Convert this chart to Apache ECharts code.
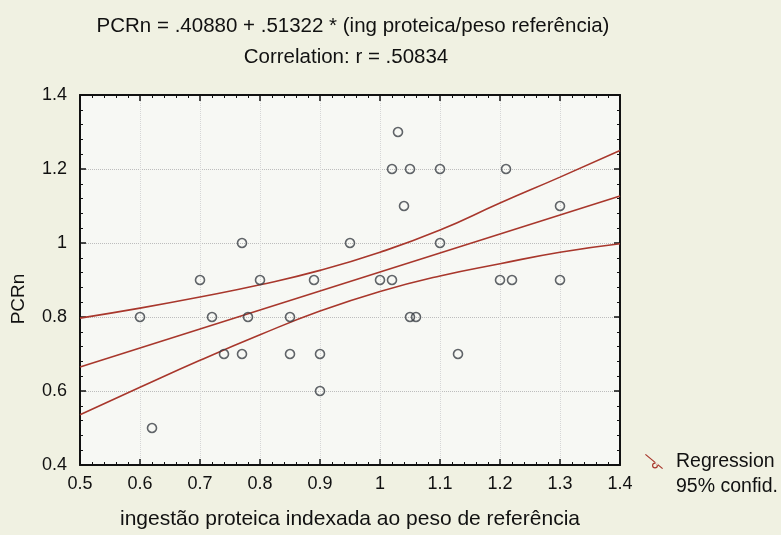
<!DOCTYPE html>
<html>
<head>
<meta charset="utf-8">
<script src="https://cdn.jsdelivr.net/npm/echarts@6/dist/echarts.min.js"></script>
<style>
html,body{margin:0;padding:0;background:#f0f1e2;}
#chart{width:781px;height:535px;}
</style>
</head>
<body>
<div id="chart"></div>
<script>
// Scatter points (ingestão proteica indexada, PCRn)
const pointsX = [0.60,0.62,0.70,0.72,0.74,0.77,0.77,0.78,0.80,0.85,0.85,0.89,0.90,0.90,0.95,1.00,1.02,1.02,1.03,1.04,1.05,1.05,1.06,1.10,1.10,1.13,1.20,1.21,1.22,1.30,1.30];
const pointsY = [0.8,0.5,0.9,0.8,0.7,1.0,0.7,0.8,0.9,0.8,0.7,0.9,0.7,0.6,1.0,0.9,0.9,1.2,1.3,1.1,1.2,0.8,0.8,1.2,1.0,0.7,0.9,1.2,0.9,1.1,0.9];

// Regression line (at the axis ends)
const fitX = [0.5, 1.4];
const fitY = [0.665, 1.127];

// 95% confidence band
const bandX = [0.5,0.6,0.7,0.8,0.9,1.0,1.1,1.2,1.3,1.4];
const bandUpper = [0.797,0.824,0.854,0.887,0.926,0.975,1.035,1.108,1.178,1.250];
const bandLower = [0.536,0.610,0.683,0.752,0.816,0.869,0.911,0.944,0.975,0.998];

const titleLine1 = 'PCRn = .40880 + .51322 * (ing proteica/peso referência)';
const titleLine2 = 'Correlation: r = .50834';
const xName = 'ingestão proteica indexada ao peso de referência';
const yName = 'PCRn';
const legendNames = ['Regression', '95% confid.'];

const zip = (a, b) => a.map((v, i) => [v, b[i]]);
const FONT = 'Liberation Sans, Arial, sans-serif';
const RED = '#a8372c';

const chart = echarts.init(document.getElementById('chart'), null, {renderer: 'canvas'});

const axisCommon = {
  type: 'value',
  axisLine: {show: true, onZero: false, lineStyle: {color: '#111', width: 2}},
  axisTick: {show: true, inside: true, length: 6, lineStyle: {color: '#111', width: 1.5}},
  minorTick: {show: true, splitNumber: 5, length: 3, lineStyle: {color: '#111', width: 1}},
  axisLabel: {color: '#111', fontFamily: FONT, fontSize: 18}
};

const legendIcon = 'path://M0,0.8 L0.8,0 L18,14.2 L17.2,15 Z M13,11.5 A3,3 0 1 0 7,11.5 A3,3 0 1 0 13,11.5 Z M11.8,11.5 A1.8,1.8 0 1 1 8.2,11.5 A1.8,1.8 0 1 1 11.8,11.5 Z M26,16 L26,16 Z';

chart.setOption({
  backgroundColor: '#f0f1e2',
  animation: false,
  graphic: [
    {type: 'text', x: 353, y: 16, style: {text: titleLine1, fill: '#111', font: '20.5px ' + FONT, textAlign: 'center'}},
    {type: 'text', x: 346, y: 47, style: {text: titleLine2, fill: '#111', font: '20.5px ' + FONT, textAlign: 'center'}}
  ],
  legend: {
    orient: 'vertical',
    left: 645,
    top: 452,
    padding: 0,
    itemGap: 5,
    itemWidth: 26,
    itemHeight: 16,
    textStyle: {color: '#111', fontFamily: FONT, fontSize: 19.5},
    data: [
      {name: legendNames[0], icon: legendIcon, itemStyle: {color: RED, borderColor: RED, borderWidth: 0}},
      {name: legendNames[1], icon: 'none'}
    ]
  },
  grid: {left: 80, right: 161, top: 95, bottom: 69, show: true, backgroundColor: '#f7f8f4', borderWidth: 0},
  xAxis: [
    Object.assign({}, axisCommon, {
      min: 0.5, max: 1.4, interval: 0.1,
      name: xName, nameLocation: 'middle', nameGap: 44,
      nameTextStyle: {color: '#111', fontFamily: FONT, fontSize: 21},
      axisLabel: Object.assign({}, axisCommon.axisLabel, {margin: 10, formatter: v => String(+v.toFixed(1))}),
      splitLine: {show: true, lineStyle: {color: '#d6d6d6', type: 'dotted', width: 1}}
    }),
    Object.assign({}, axisCommon, {
      position: 'top', min: 0.5, max: 1.4, interval: 0.1,
      axisLabel: {show: false}, splitLine: {show: false}
    })
  ],
  yAxis: [
    Object.assign({}, axisCommon, {
      min: 0.4, max: 1.4, interval: 0.2,
      name: yName, nameLocation: 'middle', nameGap: 52,
      nameTextStyle: {color: '#111', fontFamily: FONT, fontSize: 19, padding: [0, 38, 0, 0]},
      axisLabel: Object.assign({}, axisCommon.axisLabel, {margin: 13, formatter: v => String(+v.toFixed(1))}),
      splitLine: {show: true, lineStyle: {color: '#bdbdbd', type: 'dotted', width: 1}}
    }),
    Object.assign({}, axisCommon, {
      position: 'right', min: 0.4, max: 1.4, interval: 0.2,
      axisLabel: {show: false}, splitLine: {show: false}
    })
  ],
  series: [
    {
      name: legendNames[1], type: 'line', data: zip(bandX, bandUpper), smooth: true,
      showSymbol: false, symbol: 'none', lineStyle: {color: RED, width: 1.6}, itemStyle: {color: RED}, z: 2
    },
    {
      name: legendNames[1], type: 'line', data: zip(bandX, bandLower), smooth: true,
      showSymbol: false, symbol: 'none', lineStyle: {color: RED, width: 1.6}, itemStyle: {color: RED}, z: 2
    },
    {
      name: legendNames[0], type: 'line', data: zip(fitX, fitY),
      showSymbol: false, symbol: 'none', lineStyle: {color: RED, width: 1.6}, itemStyle: {color: RED}, z: 2
    },
    {
      name: legendNames[0], type: 'scatter', data: zip(pointsX, pointsY),
      symbol: 'circle', symbolSize: 9,
      itemStyle: {color: 'rgba(0,0,0,0)', borderColor: '#3a3f45', borderWidth: 1.6}, z: 3
    }
  ]
});
</script>
</body>
</html>
